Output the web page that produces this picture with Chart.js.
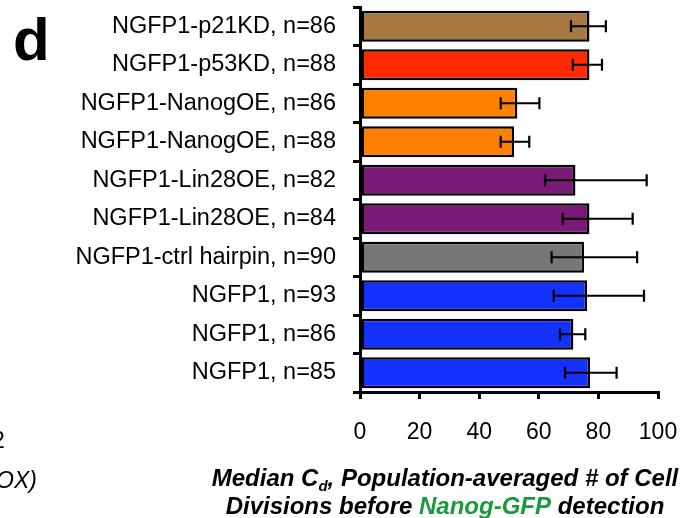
<!DOCTYPE html>
<html>
<head>
<meta charset="utf-8">
<script src="https://cdn.jsdelivr.net/npm/chart.js@4"></script>
<style>
  html, body { margin: 0; padding: 0; background: #fff; }
  #wrap { width: 694px; height: 518px; position: relative; }
</style>
</head>
<body>
<div id="wrap"><canvas id="cdChart"></canvas></div>
<script>
// data
const labels = [
    'NGFP1-p21KD, n=86',
    'NGFP1-p53KD, n=88',
    'NGFP1-NanogOE, n=86',
    'NGFP1-NanogOE, n=88',
    'NGFP1-Lin28OE, n=82',
    'NGFP1-Lin28OE, n=84',
    'NGFP1-ctrl hairpin, n=90',
    'NGFP1, n=93',
    'NGFP1, n=86',
    'NGFP1, n=85'
]
const medianCd = [77, 77, 52.8, 51.7, 72.3, 77, 75.2, 76.2, 71.6, 77.2]
const errLow   = [70.8, 71.4, 47.2, 47.2, 62.1, 68, 64.3, 65, 67.1, 68.8]
const errHigh  = [82.5, 81.2, 60.2, 56.8, 96.2, 91.5, 93, 95.3, 75.6, 86.1]
const xTicks = [0, 20, 40, 60, 80, 100]

const barColors = ['#a87843', '#ff2a00', '#ff8000', '#ff8000', '#7a1a76',
                   '#7a1a76', '#777777', '#1432ff', '#1432ff', '#1432ff']

const FONT = 'Liberation Sans, Arial, sans-serif'

// horizontal error bars drawn through the x scale
const errorBars = {
    id: 'errorBars',
    afterDatasetsDraw(chart) {
        const ctx = chart.ctx
        const xs = chart.scales.x
        const meta = chart.getDatasetMeta(0)
        ctx.save()
        ctx.strokeStyle = '#000'
        ctx.lineWidth = 2.2
        meta.data.forEach((bar, i) => {
            const x1 = xs.getPixelForValue(errLow[i])
            const x2 = xs.getPixelForValue(errHigh[i])
            const y = bar.y
            ctx.beginPath()
            ctx.moveTo(x1, y); ctx.lineTo(x2, y)
            ctx.moveTo(x1, y - 6); ctx.lineTo(x1, y + 6)
            ctx.moveTo(x2, y - 6); ctx.lineTo(x2, y + 6)
            ctx.stroke()
        })
        ctx.restore()
    }
}

// panel letter, axis title with subscript / green run, clipped neighbour text
const annotations = {
    id: 'annotations',
    afterDraw(chart) {
        const ctx = chart.ctx
        ctx.save()
        ctx.fillStyle = '#000'
        ctx.textBaseline = 'alphabetic'
        ctx.textAlign = 'left'
        ctx.font = 'bold 60px ' + FONT
        ctx.fillText('d', 13, 60)

        ctx.font = '23px ' + FONT
        ctx.fillText('2', -8, 448)
        ctx.font = 'italic 23px ' + FONT
        ctx.fillText('OX)', -4, 488)

        const cx = 445
        const big = 'italic bold 24px ' + FONT
        const sub = 'italic bold 15px ' + FONT
        const line1 = [
            { t: 'Median C', f: big, c: '#000', dy: 0 },
            { t: 'd', f: sub, c: '#000', dy: 5 },
            { t: ', Population-averaged # of Cell', f: big, c: '#000', dy: 0 }
        ]
        const line2 = [
            { t: 'Divisions before ', f: big, c: '#000', dy: 0 },
            { t: 'Nanog-GFP', f: big, c: '#1a9a3a', dy: 0 },
            { t: ' detection', f: big, c: '#000', dy: 0 }
        ]
        const drawRuns = (runs, y) => {
            let w = 0
            runs.forEach(r => { ctx.font = r.f; w += ctx.measureText(r.t).width })
            let x = cx - w / 2
            runs.forEach(r => {
                ctx.font = r.f
                ctx.fillStyle = r.c
                ctx.fillText(r.t, x, y + r.dy)
                x += ctx.measureText(r.t).width
            })
        }
        drawRuns(line1, 486)
        drawRuns(line2, 514)
        ctx.restore()
    }
}

new Chart(document.getElementById('cdChart'), {
    type: 'bar',
    data: {
        labels: labels,
        datasets: [{
            data: medianCd,
            backgroundColor: barColors,
            borderColor: '#000',
            borderWidth: 2.5,
            borderSkipped: false,
            categoryPercentage: 0.8,
            barPercentage: 1
        }]
    },
    options: {
        indexAxis: 'y',
        responsive: true,
        maintainAspectRatio: false,
        animation: false,
        layout: { padding: { top: 7, right: 36, left: 0, bottom: 0 } },
        plugins: {
            legend: { display: false },
            tooltip: { enabled: false }
        },
        scales: {
            x: {
                min: 0,
                max: 100,
                afterFit(s) {
                    s.height = 126
                    s.paddingLeft = 0
                    s.paddingRight = 0
                },
                afterBuildTicks(s) { s.ticks = xTicks.map(v => ({ value: v })) },
                grid: {
                    drawOnChartArea: false,
                    drawTicks: true,
                    tickLength: 7,
                    color: '#000',
                    lineWidth: 3
                },
                border: { color: '#000', width: 3 },
                ticks: {
                    color: '#000',
                    padding: 20,
                    font: { family: FONT, size: 23 }
                }
            },
            y: {
                afterFit(s) {
                    s.width = 360
                    s.paddingTop = 0
                    s.paddingBottom = 0
                },
                grid: {
                    offset: true,
                    drawOnChartArea: false,
                    drawTicks: true,
                    tickLength: 7,
                    color: '#000',
                    lineWidth: 3
                },
                border: { color: '#000', width: 3 },
                ticks: {
                    color: '#000',
                    padding: 17,
                    font: { family: FONT, size: 23.5 }
                }
            }
        }
    },
    plugins: [errorBars, annotations]
})
</script>
</body>
</html>
